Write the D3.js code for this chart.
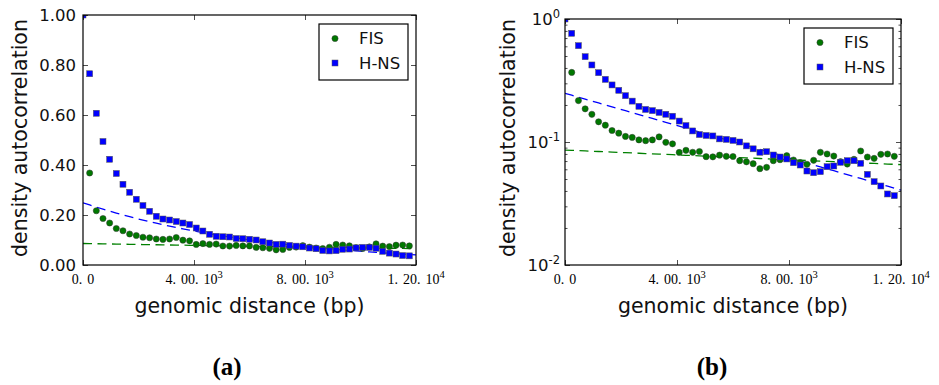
<!DOCTYPE html>
<html>
<head>
<meta charset="utf-8">
<script src="https://cdnjs.cloudflare.com/ajax/libs/d3/7.8.5/d3.min.js"></script>
<style>
    body { margin: 0; background: #fff; }
    svg { display: block; }
</style>
</head>
<body>
<script>
// genomic distance of each bin (bp)
const distances = [0, 240, 480, 720, 960, 1200, 1440, 1680, 1920, 2160,
    2400, 2640, 2880, 3120, 3360, 3600, 3840, 4080, 4320, 4560,
    4800, 5040, 5280, 5520, 5760, 6000, 6240, 6480, 6720, 6960,
    7200, 7440, 7680, 7920, 8160, 8400, 8640, 8880, 9120, 9360,
    9600, 9840, 10080, 10320, 10560, 10800, 11040, 11280, 11520, 11760];

const fisValues = [1.0, 0.368, 0.217, 0.186, 0.168, 0.146, 0.137, 0.124, 0.118, 0.111,
    0.109, 0.104, 0.1025, 0.104, 0.110, 0.0994, 0.0966, 0.0822, 0.0856, 0.0825,
    0.0837, 0.076, 0.0757, 0.0782, 0.0765, 0.0762, 0.0705, 0.069, 0.0666, 0.0607,
    0.0622, 0.0705, 0.0718, 0.0774, 0.0714, 0.068, 0.0659, 0.071, 0.0825, 0.0799,
    0.0769, 0.0692, 0.0662, 0.0723, 0.0845, 0.0755, 0.0736, 0.0794, 0.0799, 0.0765];

const hnsValues = [1.0, 0.765, 0.607, 0.494, 0.423, 0.366, 0.323, 0.291, 0.263, 0.238,
    0.215, 0.195, 0.184, 0.180, 0.174, 0.168, 0.162, 0.148, 0.136, 0.123,
    0.115, 0.113, 0.112, 0.106, 0.105, 0.103, 0.100, 0.093, 0.088, 0.0825,
    0.0834, 0.0784, 0.0755, 0.0728, 0.0679, 0.065, 0.0581, 0.0563, 0.0574, 0.063,
    0.0638, 0.0684, 0.0705, 0.0705, 0.0671, 0.0546, 0.0476, 0.0439, 0.0378, 0.0366];

// exponential fits: amplitude and decay length (bp)
const fitFIS = { amp: 0.086, decay: 44000 };
const fitHNS = { amp: 0.249, decay: 6620 };

const seriesNames = ["FIS", "H-NS"];

const xTicks = [0, 4000, 8000, 12000];
const xTickLabels = ["0.0", "4.00.10^3", "8.00.10^3", "1.20.10^4"];
const linTicks = [0, 0.2, 0.4, 0.6, 0.8, 1.0];
const linTickLabels = ["0.00", "0.20", "0.40", "0.60", "0.80", "1.00"];
const logTicks = [0.01, 0.1, 1];
const logTickExps = ["-2", "-1", "0"];

const svg = d3.select("body").append("svg")
    .attr("width", 939)
    .attr("height", 385);

const sans = "'DejaVu Sans', sans-serif";
const serif = "'Liberation Serif', 'Times New Roman', serif";

function tickAxis(axis, size) {
    return (s) => {
        s.call(axis.tickSize(size).tickFormat(""));
        s.select(".domain").remove();
        s.selectAll(".tick line").attr("stroke", "#222").attr("stroke-width", 0.8);
    };
}

function drawPanel(p) {
    const x = d3.scaleLinear().domain([0, 12000]).range([p.left, p.right]);
    const y = p.log
        ? d3.scaleLog().domain([0.01, 1]).range([p.bottom, p.top])
        : d3.scaleLinear().domain([0, 1]).range([p.bottom, p.top]);

    const g = svg.append("g");

    g.append("clipPath").attr("id", p.id + "-clip")
        .append("rect")
        .attr("x", p.left).attr("y", p.top)
        .attr("width", p.right - p.left).attr("height", p.bottom - p.top);

    const plot = g.append("g").attr("clip-path", "url(#" + p.id + "-clip)");

    // fitted exponentials
    const line = d3.line().x(d => x(d[0])).y(d => y(d[1]));
    const fitX = distances.concat([12000]);
    [[fitFIS, "#008000"], [fitHNS, "#0000ff"]].forEach(([fit, col]) => {
        plot.append("path")
            .datum(fitX.map(d => [d, fit.amp * Math.exp(-d / fit.decay)]))
            .attr("d", line)
            .attr("fill", "none")
            .attr("stroke", col)
            .attr("stroke-width", 1.3)
            .attr("stroke-dasharray", "9,5.5");
    });

    // FIS circles
    plot.selectAll(".fis")
        .data(distances.map((d, i) => [d, fisValues[i]]))
        .join("circle")
        .attr("cx", d => x(d[0]))
        .attr("cy", d => y(d[1]))
        .attr("r", 3.1)
        .attr("fill", "#007800")
        .attr("stroke", "#333")
        .attr("stroke-width", 0.5);

    // H-NS squares
    plot.selectAll(".hns")
        .data(distances.map((d, i) => [d, hnsValues[i]]))
        .join("rect")
        .attr("x", d => x(d[0]) - 3)
        .attr("y", d => y(d[1]) - 3)
        .attr("width", 6)
        .attr("height", 6)
        .attr("fill", "#0000ff")
        .attr("stroke", "#555")
        .attr("stroke-width", 0.5);

    // ticks pointing inward on all four sides
    g.append("g").attr("transform", "translate(0," + p.bottom + ")")
        .call(tickAxis(d3.axisBottom(x).tickValues(xTicks), -5));
    g.append("g").attr("transform", "translate(0," + p.top + ")")
        .call(tickAxis(d3.axisTop(x).tickValues(xTicks), -5));

    const yMajor = p.log ? logTicks : linTicks;
    g.append("g").attr("transform", "translate(" + p.left + ",0)")
        .call(tickAxis(d3.axisLeft(y).tickValues(yMajor), -5));
    g.append("g").attr("transform", "translate(" + p.right + ",0)")
        .call(tickAxis(d3.axisRight(y).tickValues(yMajor), -5));

    if (p.log) {
        const minor = logTicks.slice(0, -1).flatMap(t => d3.range(2, 10).map(k => k * t));
        g.append("g").attr("transform", "translate(" + p.left + ",0)")
            .call(tickAxis(d3.axisLeft(y).tickValues(minor), -2.5));
        g.append("g").attr("transform", "translate(" + p.right + ",0)")
            .call(tickAxis(d3.axisRight(y).tickValues(minor), -2.5));
    }

    // frame
    g.append("rect")
        .attr("x", p.left).attr("y", p.top)
        .attr("width", p.right - p.left).attr("height", p.bottom - p.top)
        .attr("fill", "none")
        .attr("stroke", "#000")
        .attr("stroke-width", 1.2);

    // x tick labels, e.g. "4. 00. 10^3"
    xTicks.forEach((t, i) => {
        const [mant, exp] = xTickLabels[i].split("^");
        const parts = mant.split(".");
        const txt = g.append("text")
            .attr("x", x(t))
            .attr("y", p.bottom + 19)
            .attr("text-anchor", "middle")
            .attr("font-family", serif)
            .attr("font-size", 14);
        parts.forEach((part, k) => {
            txt.append("tspan")
                .attr("dx", k === 0 ? 0 : 5)
                .text(part + (k < parts.length - 1 ? "." : ""));
        });
        if (exp) {
            txt.append("tspan")
                .attr("dy", -6)
                .attr("font-size", 10.5)
                .text(exp);
        }
    });

    // y tick labels
    if (p.log) {
        logTicks.forEach((t, i) => {
            const txt = g.append("text")
                .attr("x", p.left - 5)
                .attr("y", y(t) + 6)
                .attr("text-anchor", "end")
                .attr("font-family", sans)
                .attr("font-size", 16.5)
                .attr("fill", "#111");
            txt.append("tspan").text("10");
            txt.append("tspan")
                .attr("dy", -7)
                .attr("font-size", 11.5)
                .text(logTickExps[i]);
        });
    } else {
        linTicks.forEach((t, i) => {
            g.append("text")
                .attr("x", p.left - 7)
                .attr("y", y(t))
                .attr("dy", "0.34em")
                .attr("text-anchor", "end")
                .attr("font-family", sans)
                .attr("font-size", 16.5)
                .attr("fill", "#111")
                .text(linTickLabels[i]);
        });
    }

    // axis titles
    g.append("text")
        .attr("x", (p.left + p.right) / 2)
        .attr("y", 313)
        .attr("text-anchor", "middle")
        .attr("font-family", sans)
        .attr("font-size", 20.5)
        .attr("fill", "#111")
        .text("genomic distance (bp)");

    g.append("text")
        .attr("transform", "translate(" + p.ylabelX + ",138) rotate(-90)")
        .attr("text-anchor", "middle")
        .attr("font-family", sans)
        .attr("font-size", 20.5)
        .attr("fill", "#111")
        .text("density autocorrelation");

    // legend
    const lx = p.right - 8 - 89;
    const ly = p.top + 9;
    const leg = g.append("g");
    leg.append("rect")
        .attr("x", lx).attr("y", ly)
        .attr("width", 89).attr("height", 56)
        .attr("fill", "#fff")
        .attr("stroke", "#000")
        .attr("stroke-width", 1.2);
    leg.append("circle")
        .attr("cx", lx + 16).attr("cy", ly + 14.5)
        .attr("r", 3.1)
        .attr("fill", "#007800")
        .attr("stroke", "#333")
        .attr("stroke-width", 0.5);
    leg.append("rect")
        .attr("x", lx + 13).attr("y", ly + 36)
        .attr("width", 6).attr("height", 6)
        .attr("fill", "#0000ff")
        .attr("stroke", "#555")
        .attr("stroke-width", 0.5);
    seriesNames.forEach((name, i) => {
        leg.append("text")
            .attr("x", lx + 40)
            .attr("y", ly + 14.5 + i * 24.5)
            .attr("dy", "0.36em")
            .attr("font-family", sans)
            .attr("font-size", 16.5)
            .attr("fill", "#111")
            .text(name);
    });

    // sub-figure caption
    svg.append("text")
        .attr("x", p.captionX)
        .attr("y", 375)
        .attr("text-anchor", "middle")
        .attr("font-family", serif)
        .attr("font-weight", "bold")
        .attr("font-size", 25)
        .text(p.caption);
}

drawPanel({ id: "a", left: 83, right: 416, top: 15, bottom: 265, log: false, ylabelX: 27, captionX: 227, caption: "(a)" });
drawPanel({ id: "b", left: 565, right: 901, top: 19, bottom: 265, log: true, ylabelX: 515, captionX: 712, caption: "(b)" });
</script>
</body>
</html>
